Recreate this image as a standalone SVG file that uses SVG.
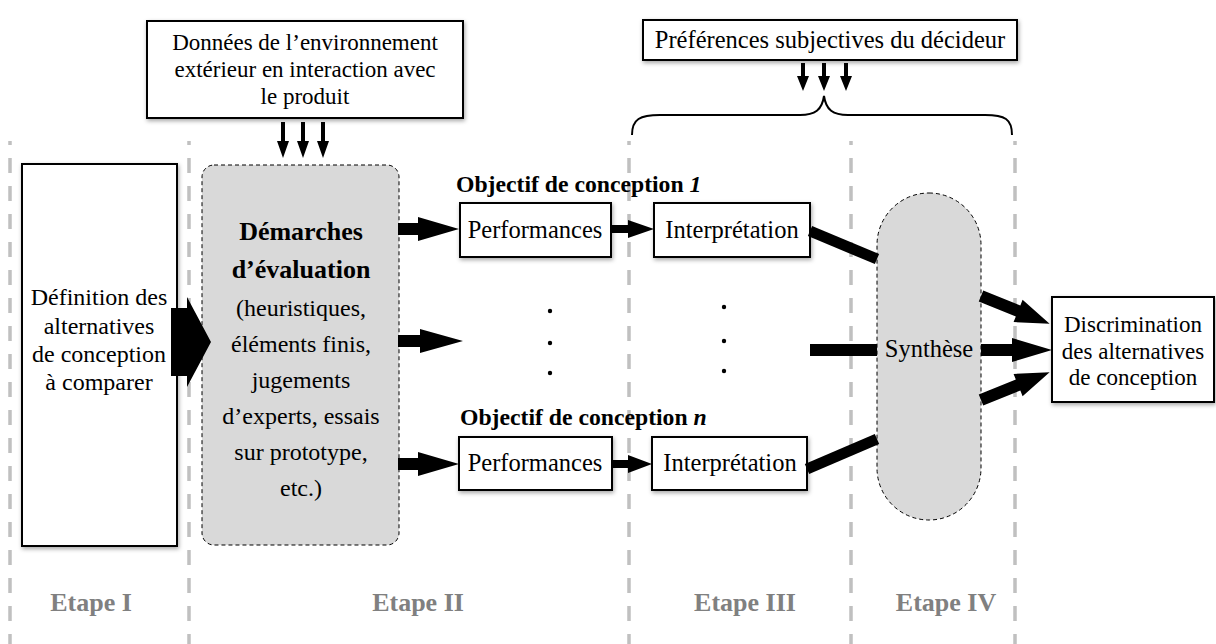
<svg xmlns="http://www.w3.org/2000/svg" width="1216" height="644" viewBox="0 0 1216 644">
<style>
text{font-family:"Liberation Serif","Times New Roman",serif;font-size:23px;fill:#000}
.c{text-anchor:middle}
.b{font-weight:bold}
.m{font-size:24.5px}
.d{font-size:24px}
.stage{font-weight:bold;fill:#808080;font-size:26px;text-anchor:middle}
.box{fill:#fff;stroke:#000;stroke-width:2;filter:url(#sh)}
.grey{fill:#d9d9d9;stroke:#000;stroke-width:1;stroke-dasharray:4 3}
.sep{stroke:#c0c0c0;stroke-width:3.5;stroke-dasharray:15 13;stroke-dashoffset:11;fill:none}
.arr{fill:#000;stroke:none}
.thick{stroke:#000;stroke-width:11;fill:none}
</style>
<defs>
<filter id="sh" x="-10%" y="-10%" width="130%" height="130%">
<feDropShadow dx="1" dy="2" stdDeviation="2" flood-color="#000" flood-opacity="0.35"/>
</filter>
</defs>
<rect width="1216" height="644" fill="#fff"/>

<g id="separators">
<line class="sep" x1="10" y1="141" x2="10" y2="644"/>
<line class="sep" x1="189" y1="141" x2="189" y2="644"/>
<line class="sep" x1="629" y1="141" x2="629" y2="644"/>
<line class="sep" x1="851" y1="141" x2="851" y2="644"/>
<line class="sep" x1="1015" y1="141" x2="1015" y2="644"/>
</g>

<g id="stages">
<text class="stage" x="91" y="611">Etape I</text>
<text class="stage" x="418" y="611">Etape II</text>
<text class="stage" x="745" y="611">Etape III</text>
<text class="stage" x="946" y="611">Etape IV</text>
</g>

<g id="env">
<rect class="box" x="147" y="21" width="316" height="97"/>
<text class="c" x="305" y="50">Données de l’environnement</text>
<text class="c" x="305" y="77">extérieur en interaction avec</text>
<text class="c" x="305" y="104">le produit</text>
</g>

<g id="pref">
<rect class="box" x="643" y="20" width="374" height="40"/>
<text class="c m" x="830" y="48">Préférences subjectives du décideur</text>
</g>

<g id="brace">
<path d="M632,135 C632,119 640,115 660,115 L800,115 C815,115 822,110 824,96 C826,110 833,115 848,115 L985,115 C1005,115 1012,119 1012,135" fill="none" stroke="#000" stroke-width="2"/>
</g>

<g id="def">
<rect class="box" x="22" y="164" width="155" height="382"/>
<text class="c d" x="99" y="305">Définition des</text>
<text class="c d" x="99" y="334">alternatives</text>
<text class="c d" x="99" y="362">de conception</text>
<text class="c d" x="99" y="390">à comparer</text>
</g>

<g id="demarches">
<rect class="grey" x="202" y="165" width="197" height="380" rx="12"/>
<text class="c b" x="301" y="240" style="font-size:26px">Démarches</text>
<text class="c b" x="301" y="278" style="font-size:26px">d’évaluation</text>
<text class="c d" x="301" y="316">(heuristiques,</text>
<text class="c d" x="301" y="352">éléments finis,</text>
<text class="c d" x="301" y="388">jugements</text>
<text class="c d" x="301" y="424">d’experts, essais</text>
<text class="c d" x="301" y="460">sur prototype,</text>
<text class="c d" x="301" y="496">etc.)</text>
</g>

<g id="obj1label"><text class="b" x="456" y="192" style="font-size:23.7px">Objectif de conception <tspan font-style="italic">1</tspan></text></g>
<g id="objnlabel"><text class="b" x="460" y="425" style="font-size:23.7px">Objectif de conception <tspan font-style="italic">n</tspan></text></g>

<g id="perf1">
<rect class="box" x="460" y="203" width="151" height="54"/>
<text class="c m" x="535" y="238">Performances</text>
</g>
<g id="interp1">
<rect class="box" x="654" y="203" width="156" height="54"/>
<text class="c m" x="732" y="238">Interprétation</text>
</g>
<g id="perfn">
<rect class="box" x="459" y="437" width="153" height="53"/>
<text class="c m" x="535" y="471">Performances</text>
</g>
<g id="interpn">
<rect class="box" x="652" y="437" width="155" height="53"/>
<text class="c m" x="730" y="471">Interprétation</text>
</g>

<g id="synthese">
<rect class="grey" x="877" y="193" width="104" height="327" rx="52"/>
<text class="c m" x="929" y="357">Synthèse</text>
</g>

<g id="discrimination">
<rect class="box" x="1052" y="297" width="162" height="105"/>
<text class="c" x="1133" y="332">Discrimination</text>
<text class="c" x="1133" y="359">des alternatives</text>
<text class="c" x="1133" y="385">de conception</text>
</g>

<g id="dots" fill="#000">
<circle cx="550" cy="311" r="2.2"/><circle cx="550" cy="343" r="2.2"/><circle cx="550" cy="373" r="2.2"/>
<circle cx="724" cy="307" r="2.2"/><circle cx="724" cy="341" r="2.2"/><circle cx="724" cy="371" r="2.2"/>
</g>

<g id="connectors">
<polygon class="arr" points="171,308 187,308 187,297 211,342 187,387 187,376 171,376"/>
<polygon class="arr" points="281,122 285,122 285,141 289,141 283,158 277,141 281,141"/>
<polygon class="arr" points="301,122 305,122 305,141 309,141 303,158 297,141 301,141"/>
<polygon class="arr" points="321,122 325,122 325,141 329,141 323,158 317,141 321,141"/>
<polygon class="arr" points="801,63 805,63 805,76 809,76 803,91 797,76 801,76"/>
<polygon class="arr" points="822,63 826,63 826,76 830,76 824,91 818,76 822,76"/>
<polygon class="arr" points="844,63 848,63 848,76 852,76 846,91 840,76 844,76"/>
<polygon class="arr" points="398,223 418,223 418,217 459,229 418,241 418,235 398,235"/>
<polygon class="arr" points="398,335 420,335 420,329 463,341 420,353 420,347 398,347"/>
<polygon class="arr" points="398,458 418,458 418,452 459,464 418,476 418,470 398,470"/>
<polygon class="arr" points="612,225 628,225 628,220 654,229 628,238 628,233 612,233"/>
<polygon class="arr" points="613,460 628,460 628,455 652,464 628,473 628,468 613,468"/>
<line class="thick" x1="810" y1="231" x2="877" y2="259"/>
<rect class="arr" x="810" y="344" width="67" height="12"/>
<line class="thick" x1="807" y1="469" x2="877" y2="439"/>
<g transform="translate(981,296) rotate(22)"><polygon class="arr" points="0,-6 40,-6 40,-12 74,0 40,12 40,6 0,6"/></g>
<polygon class="arr" points="981,344 1012,344 1012,338 1052,350 1012,362 1012,356 981,356"/>
<g transform="translate(981,400) rotate(-22)"><polygon class="arr" points="0,-6 40,-6 40,-12 74,0 40,12 40,6 0,6"/></g>
</g>
</svg>
